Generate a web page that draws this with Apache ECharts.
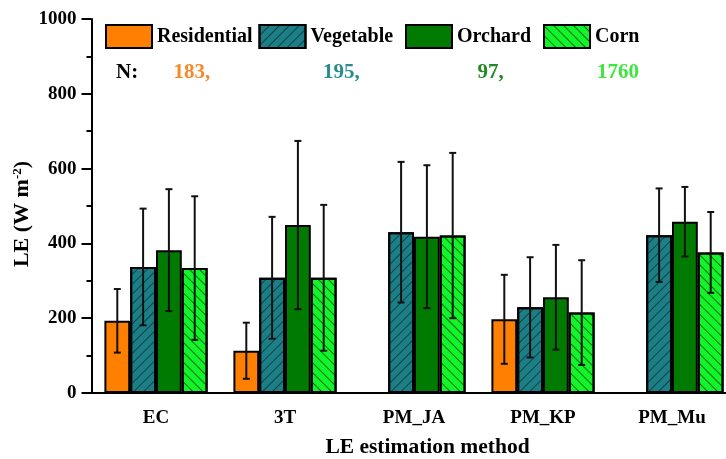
<!DOCTYPE html>
<html>
<head>
<meta charset="utf-8">
<script src="https://cdn.jsdelivr.net/npm/echarts@6/dist/echarts.min.js"></script>
<style>html,body{margin:0;padding:0;background:#fff;}#c{width:726px;height:459px;}</style>
</head>
<body>
<div id="c"></div>
<script>
const categories = ['EC', '3T', 'PM_JA', 'PM_KP', 'PM_Mu'];
const seriesNames = ['Residential', 'Vegetable', 'Orchard', 'Corn'];
const residential = [193, 113, null, 197, null];
const residentialSD = [85, 75, null, 119, null];
const vegetable = [337, 308, 430, 229, 422];
const vegetableSD = [156, 163, 188, 134, 125];
const orchard = [382, 449, 418, 256, 458];
const orchardSD = [163, 225, 191, 140, 93];
const corn = [334, 308, 421, 215, 376];
const cornSD = [192, 195, 221, 140, 108];
const sampleN = ['183,', '195,', '97,', '1760'];
const yTicks = [0, 200, 400, 600, 800, 1000];

const means = [residential, vegetable, orchard, corn];
const sds = [residentialSD, vegetableSD, orchardSD, cornSD];
const colors = ['#FF8000', '#1C7F86', '#007A00', '#11F52A'];
const nColors = ['#F28A2E', '#2A8C8E', '#238A23', '#3EE63E'];
const decals = [
  null,
  {symbol: 'rect', symbolSize: 1, dashArrayX: [1, 0], dashArrayY: [1, 6], rotation: -Math.PI / 4, color: 'rgba(10,45,55,0.75)'},
  null,
  {symbol: 'rect', symbolSize: 1, dashArrayX: [1, 0], dashArrayY: [1, 6], rotation: Math.PI / 4, color: 'rgba(0,70,0,0.75)'}
];
const FONT = 'Liberation Serif, Times New Roman, serif';

const chart = echarts.init(document.getElementById('c'), null, {renderer: 'canvas'});

const series = [];
seriesNames.forEach((name, i) => {
  const itemStyle = {color: colors[i], borderColor: '#000', borderWidth: 2};
  if (decals[i]) itemStyle.decal = decals[i];
  series.push({
    name: name,
    type: 'bar',
    barGap: '0%',
    barCategoryGap: '20%',
    itemStyle: itemStyle,
    emphasis: {disabled: true},
    data: means[i].map(v => v == null ? '-' : v),
    z: 2
  });
});
seriesNames.forEach((name, i) => {
  const data = [];
  means[i].forEach((v, k) => { if (v != null) data.push([k, v, sds[i][k]]); });
  series.push({
    type: 'custom',
    name: name + ' SD',
    z: 5,
    silent: true,
    encode: {x: 0, y: 1},
    data: data,
    renderItem: function (params, api) {
      const idx = api.value(0), m = api.value(1), s = api.value(2);
      const band = api.size([1, 0])[0];
      const bw = band * 0.8 / 4;
      const off = (i - 1.5) * bw;
      const top = api.coord([idx, m + s]);
      const bot = api.coord([idx, m - s]);
      const x = top[0] + off;
      const cap = 3.5;
      const st = {stroke: '#111', lineWidth: 2};
      return {
        type: 'group',
        children: [
          {type: 'line', shape: {x1: x, y1: top[1], x2: x, y2: bot[1]}, style: st},
          {type: 'line', shape: {x1: x - cap, y1: top[1], x2: x + cap, y2: top[1]}, style: st},
          {type: 'line', shape: {x1: x - cap, y1: bot[1], x2: x + cap, y2: bot[1]}, style: st}
        ]
      };
    }
  });
});

const legendLefts = [105, 258.5, 405, 543];
const nLefts = [173.5, 323, 477.5, 597];

const graphics = [{
  type: 'text', left: 116, top: 62,
  style: {text: 'N:', font: 'bold 21px ' + FONT, fill: '#000'}
}];
sampleN.forEach((t, i) => {
  graphics.push({
    type: 'text', left: nLefts[i], top: 62,
    style: {text: t, font: 'bold 21px ' + FONT, fill: nColors[i]}
  });
});

const option = {
  backgroundColor: '#fff',
  animation: false,
  textStyle: {fontFamily: FONT},
  grid: {left: 91.5, right: -10.5, top: 19, bottom: 66, containLabel: false, outerBoundsMode: 'none'},
  legend: seriesNames.map((n, i) => ({
    data: [n],
    left: legendLefts[i],
    top: 24,
    padding: 0,
    icon: 'rect',
    itemWidth: 46,
    itemHeight: 23,
    itemGap: 5,
    selectedMode: false,
    itemStyle: {borderColor: '#000', borderWidth: 2},
    textStyle: {fontFamily: FONT, fontWeight: 'bold', fontSize: 20, color: '#000', padding: [0, 0, 0, 0]}
  })),
  xAxis: {
    type: 'category',
    data: categories,
    axisLine: {lineStyle: {color: '#000', width: 2}},
    axisTick: {alignWithLabel: true, length: 8, lineStyle: {color: '#000', width: 2}},
    axisLabel: {fontFamily: FONT, fontWeight: 'bold', fontSize: 19, color: '#000', margin: 16},
    name: 'LE estimation method',
    nameLocation: 'middle',
    nameGap: 43,
    nameMoveOverlap: false,
    nameTextStyle: {fontFamily: FONT, fontWeight: 'bold', fontSize: 21.5, color: '#000', padding: [0, 0, 0, 27]}
  },
  yAxis: {
    type: 'value',
    min: yTicks[0],
    max: yTicks[yTicks.length - 1],
    interval: yTicks[1] - yTicks[0],
    axisLine: {show: true, lineStyle: {color: '#000', width: 2}},
    axisTick: {show: true, length: 10, lineStyle: {color: '#000', width: 2}},
    minorTick: {show: true, splitNumber: 2, length: 5, lineStyle: {color: '#000', width: 2}},
    splitLine: {show: false},
    axisLabel: {fontFamily: FONT, fontWeight: 'bold', fontSize: 19, color: '#000', margin: 15, formatter: v => String(v)},
    name: 'LE (W m{sup|-2})',
    nameLocation: 'middle',
    nameGap: 58,
    nameMoveOverlap: false,
    nameTextStyle: {
      fontFamily: FONT, fontWeight: 'bold', fontSize: 22, color: '#000',
      padding: [0, 16, 0, 0],
      rich: {sup: {fontFamily: FONT, fontWeight: 'bold', fontSize: 13, color: '#000', verticalAlign: 'top', padding: [0, 0, 8, 0]}}
    }
  },
  graphic: graphics,
  series: series
};
chart.setOption(option);
</script>
</body>
</html>
